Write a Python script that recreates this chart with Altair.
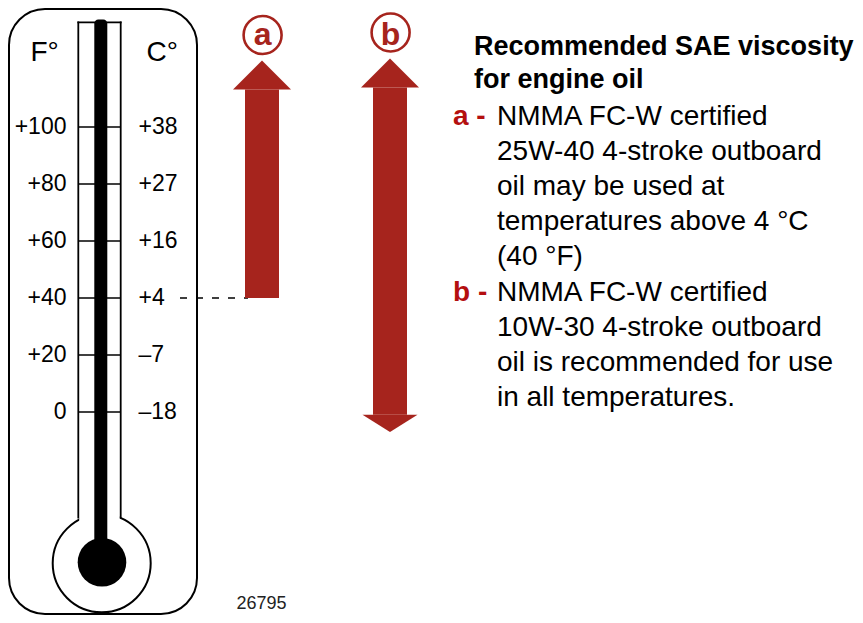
import altair as alt
import pandas as pd

# ---------------- data ----------------
F_TICKS = [100, 80, 60, 40, 20, 0]
F_LABELS = ["+100", "+80", "+60", "+40", "+20", "0"]
C_LABELS = ["+38", "+27", "+16", "+4", "–7", "–18"]
UNIT_LABELS = ["F°", "C°"]
ARROW_NAMES = ["a", "b"]
ARROW_LOW_F = [40, -1.0]       # bottom of each arrow shaft (°F)
ARROW_HIGH_F = [113.2, 113.9]  # top of each arrow shaft (°F)
THRESHOLD_F = 40
TITLE_LINES = ["Recommended SAE viscosity", "for engine oil"]
A_LINES = ["NMMA FC-W certified", "25W-40 4-stroke outboard", "oil may be used at",
           "temperatures above 4 °C", "(40 °F)"]
B_LINES = ["NMMA FC-W certified", "10W-30 4-stroke outboard", "oil is recommended for use",
           "in all temperatures."]
FIG_ID = "26795"

# ---------------- layout ----------------
W, H = 847, 607
FONT = "Liberation Sans"
ARROW_RED = "#a6241d"
TEXT_RED = "#b40f0f"
Y_MAX = 100 + (127 - 8) / 2.85
Y_MIN = 100 - (615 - 127) / 2.85
yscale = alt.Scale(domain=[Y_MIN, Y_MAX], nice=False, zero=False)


def X(s):
    return alt.value(s - 8)


def Y(s):
    return alt.value(s - 8)


one = pd.DataFrame({"k": [0]})
ticks = pd.DataFrame({"f": F_TICKS, "fl": F_LABELS, "cl": C_LABELS})
arrows = pd.DataFrame({"name": ARROW_NAMES, "lo": ARROW_LOW_F, "hi": ARROW_HIGH_F})
thr = pd.DataFrame({"f": [THRESHOLD_F]})

layers = []

# outer rounded frame
layers.append(alt.Chart(one).mark_rect(cornerRadius=36, fill="white", stroke="black", strokeWidth=2)
              .encode(x=X(9), x2=X(197), y=Y(9), y2=Y(614)))
# bulb outline
layers.append(alt.Chart(one).mark_point(shape="circle", size=98 ** 2, filled=True, fill="white",
                                        stroke="black", strokeWidth=2, opacity=1)
              .encode(x=X(101.7), y=Y(563.3)))
# tube interior
layers.append(alt.Chart(one).mark_rect(fill="white", strokeWidth=0)
              .encode(x=X(79.2), x2=X(119.8), y=Y(22.5), y2=Y(528)))
# tube walls + top
for wx in (78.3, 120.7):
    layers.append(alt.Chart(one).mark_rule(color="black", strokeWidth=1.8)
                  .encode(x=X(wx), y=Y(21.5), y2=Y(518.5)))
layers.append(alt.Chart(one).mark_rule(color="black", strokeWidth=1.8)
              .encode(x=X(77.4), x2=X(121.6), y=Y(22.3)))
# scale ticks
layers.append(alt.Chart(ticks).mark_rule(color="black", strokeWidth=1.6)
              .encode(y=alt.Y("f:Q", scale=yscale, axis=None), x=X(78.3), x2=X(120.7)))
# mercury
layers.append(alt.Chart(one).mark_rect(fill="black", cornerRadiusTopLeft=4, cornerRadiusTopRight=4)
              .encode(x=X(94.3), x2=X(107.3), y=Y(19.5), y2=Y(555)))
layers.append(alt.Chart(one).mark_point(shape="circle", size=48.6 ** 2, filled=True, color="black", opacity=1)
              .encode(x=X(102), y=Y(562.3)))
# labels
layers.append(alt.Chart(ticks).mark_text(font=FONT, fontSize=23, align="right", baseline="middle", color="black")
              .encode(y=alt.Y("f:Q", scale=yscale, axis=None), x=X(66.5), text="fl:N"))
layers.append(alt.Chart(ticks).mark_text(font=FONT, fontSize=23, align="left", baseline="middle", color="black")
              .encode(y=alt.Y("f:Q", scale=yscale, axis=None), x=X(138.5), text="cl:N"))
for lab, ux in zip(UNIT_LABELS, (30.5, 146.5)):
    layers.append(alt.Chart(one).mark_text(font=FONT, fontSize=28, align="left", baseline="alphabetic",
                                           color="black", text=lab)
                  .encode(x=X(ux), y=Y(61)))
# dashed threshold line
layers.append(alt.Chart(thr).mark_rule(color="black", strokeWidth=1.6, strokeDash=[7, 9])
              .encode(y=alt.Y("f:Q", scale=yscale, axis=None), x=X(180), x2=X(248)))

# arrows
ARROW_CX = {"a": 262.0, "b": 390.0}
LABEL_CY = {"a": 35.0, "b": 32.5}
UP_HEAD = "M-1,0L1,0L0,-1Z"
DOWN_HEAD = "M-1,0L1,0L0,0.62Z"
for nm in ARROW_NAMES:
    cx = ARROW_CX[nm]
    base = alt.Chart(arrows).transform_filter(alt.datum.name == nm)
    layers.append(base.mark_rect(color=ARROW_RED)
                  .encode(x=X(cx - 17), x2=X(cx + 17),
                          y=alt.Y("lo:Q", scale=yscale, axis=None), y2="hi:Q"))
    layers.append(base.mark_point(shape=UP_HEAD, size=58 ** 2, filled=True, color=ARROW_RED,
                                  opacity=1, strokeWidth=0)
                  .encode(x=X(cx), y=alt.Y("hi:Q", scale=yscale, axis=None)))
    if nm == "b":
        layers.append(base.mark_point(shape=DOWN_HEAD, size=55 ** 2, filled=True, color=ARROW_RED,
                                      opacity=1, strokeWidth=0)
                      .encode(x=X(cx), y=alt.Y("lo:Q", scale=yscale, axis=None)))
    layers.append(alt.Chart(one).mark_point(shape="circle", size=38 ** 2, filled=False, color=ARROW_RED,
                                            strokeWidth=2.6, opacity=1)
                  .encode(x=X(cx + 0.6), y=Y(LABEL_CY[nm])))
    layers.append(alt.Chart(one).mark_text(font=FONT, fontSize=32, fontWeight="bold", align="center",
                                           baseline="alphabetic", color=ARROW_RED, text=nm)
                  .encode(x=X(cx + 0.6), y=Y(45)))

# explanatory text
layers.append(alt.Chart(one).mark_text(font=FONT, fontSize=27, fontWeight="bold", align="left",
                                       baseline="alphabetic", color="black", text=TITLE_LINES, lineHeight=33)
              .encode(x=X(474), y=Y(55)))
for nm, lines, by in (("a", A_LINES, 125), ("b", B_LINES, 301)):
    layers.append(alt.Chart(one).mark_text(font=FONT, fontSize=28, fontWeight="bold", align="left",
                                           baseline="alphabetic", color=TEXT_RED, text=nm + " -")
                  .encode(x=X(453), y=Y(by)))
    layers.append(alt.Chart(one).mark_text(font=FONT, fontSize=28, align="left",
                                           baseline="alphabetic", color="black", text=lines, lineHeight=35)
                  .encode(x=X(497), y=Y(by)))
layers.append(alt.Chart(one).mark_text(font=FONT, fontSize=18, align="left", baseline="alphabetic",
                                       color="#222222", text=FIG_ID)
              .encode(x=X(236.5), y=Y(609)))

chart = (alt.layer(*layers)
         .properties(width=W, height=H, padding=0, autosize=alt.AutoSizeParams(type="none"))
         .configure_view(stroke=None))

chart.save("out.html", embed_options={"renderer": "svg", "actions": False})
